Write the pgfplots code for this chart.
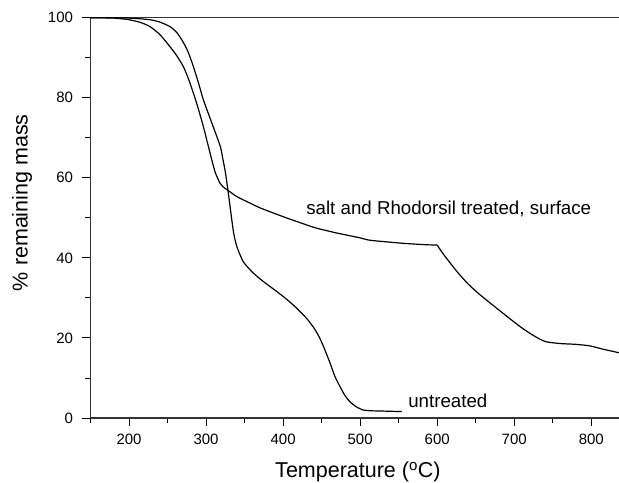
\documentclass[border=0pt]{standalone}
\usepackage{fontspec}
\setmainfont{Liberation Sans}
\usepackage{pgfplots}
\pgfplotsset{compat=1.18}

\begin{document}
\begin{tikzpicture}
\begin{axis}[
    width=528.5pt, height=400.3pt,
    scale only axis,
    xmin=150, xmax=836,
    ymin=0, ymax=100,
    axis x line*=box,
    axis y line*=left,
    xtick={200,300,...,800},
    minor xtick={150,250,...,850},
    ytick={0,20,...,100},
    minor ytick={10,30,...,90},
    xtick pos=bottom,
    tick align=outside,
    major tick length=8pt,
    minor tick length=5pt,
    tick style={black, line width=0.9pt},
    axis line style={black!80, line width=1.1pt},
    every tick label/.append style={font=\fontsize{15}{18}\selectfont},
    yticklabel style={xshift=-6pt},
    xticklabel style={yshift=-4pt},
    /pgf/number format/assume math mode=true,
    /pgf/number format/1000 sep={},
    xlabel={Temperature (\textsuperscript{o}C)},
    ylabel={\% remaining mass},
    label style={font=\fontsize{21.5}{24}\selectfont},
    xlabel style={at={(axis description cs:0.506,0)}, anchor=base, yshift=-59.7pt},
    ylabel style={at={(axis description cs:-0.1296,0.538)}, anchor=center},
    clip=false,
]
% salt and Rhodorsil treated, surface
\addplot[black, line width=1.2pt, smooth, tension=0.4] coordinates {
    (150,100) (180,99.9) (200,99.5) (215,98.8) (227,97.8) (240,95.8) (253,92.8)
    (262,90.5) (270.5,87.8) (277,84.8) (283.5,81.2) (290,77.2) (296.5,72.8)
    (302,68.6) (307.4,64.5) (312,61.3) (318,58.7) (323,57.6) (329,56.8)
    (340,55.3) (357,53.7) (370,52.5) (400,50.3) (431,48.2) (444,47.4)
    (470,46.2) (500,45.0) (513,44.4) (552,43.7) (575,43.4) (590,43.25) (600,43.2)
};
\addplot[black, line width=1.2pt, smooth, tension=0.4] coordinates {
    (600,43.2) (607,41.2) (617,38.7) (625.6,36.6) (640,33.5) (655.8,30.75)
    (680,27.0) (707.8,22.8) (725,20.6) (740.3,19.1) (760,18.6) (780,18.4)
    (798.7,18.0) (815,17.2) (836,16.3)
};
% untreated
\addplot[black, line width=1.2pt, smooth, tension=0.4] coordinates {
    (150,100) (200,99.9) (227,99.5) (240,98.9) (253,97.8) (262,96.3) (270,94)
    (277,91.3) (283.5,87.8) (290,83.8) (296.5,79.5) (305,75) (314,70.3)
    (319,67.5) (322,64.5) (325,61.5) (329,56) (333.4,49.5) (336,46) (340,42.8)
    (348.4,39) (361.4,36.2) (375,34) (391.8,31.6) (405,29.6) (417.8,27.4)
    (430,25) (440,22.5) (447,20.2) (453,17.6) (461,13.7) (467,10.5) (474,7.8)
    (480,5.7) (487,4) (495,2.8) (504,2) (515,1.8) (526,1.75) (554,1.6)
};
\node[anchor=base west, font=\fontsize{18.7}{22}\selectfont, inner sep=0pt] at (axis cs:429.9,50.75) {salt and Rhodorsil treated, surface};
\node[anchor=base west, font=\fontsize{18.7}{22}\selectfont, inner sep=0pt] at (axis cs:562.3,2.67) {untreated};
\end{axis}
\pgfresetboundingbox
\path[use as bounding box] ([xshift=-90.5pt,yshift=-64pt]current axis.south west) rectangle ([yshift=17.7pt]current axis.north east);
\end{tikzpicture}
\end{document}
